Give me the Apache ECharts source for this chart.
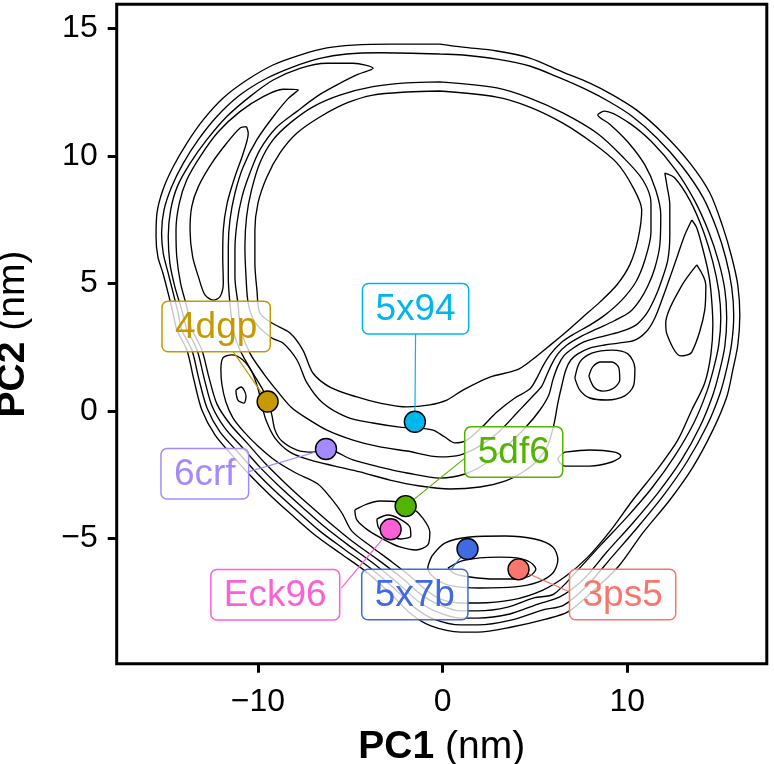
<!DOCTYPE html>
<html><head><meta charset="utf-8">
<script src="https://cdn.jsdelivr.net/npm/echarts@6/dist/echarts.min.js"></script>
<style>html,body{margin:0;padding:0;background:#fff}#c{width:774px;height:764px}</style>
</head><body><div id="c"></div>
<script>
// ---- point data ----
const names = ['4dgp','5x94','6crf','5df6','Eck96','5x7b','3ps5'];
const pc1 = [-9.47,-1.50,-6.31,-2.00,-2.81,1.35,4.11];
const pc2 = [0.37,-0.42,-1.49,-3.73,-4.64,-5.41,-6.21];
const colors = ['#C49A00','#00B6EB','#A58AFF','#53B400','#FB61D7','#4169E1','#F8766D'];
const xTicks = [-10,0,10];
const yTicks = [-5,0,5,10,15];

// ---- contour lines (PC1, PC2) ----
const cO1 = [[-0.15,14.39],[1.10,14.27],[2.94,14.12],[4.72,13.84],[6.51,13.29],[7.97,12.86],[9.22,12.39],[10.51,11.80],[11.92,10.90],[13.38,9.73],[14.47,8.55],[15.17,7.22],[15.65,6.04],[15.98,4.94],[16.09,3.76],[15.98,2.59],[15.71,1.61],[15.38,0.55],[14.63,-0.75],[13.55,-2.20],[12.30,-3.49],[10.84,-4.78],[9.54,-6.08],[8.08,-7.10],[6.78,-7.88],[5.59,-8.16],[3.75,-8.47],[1.91,-8.67],[0.99,-8.67],[-0.63,-8.43],[-1.77,-7.92],[-2.85,-7.14],[-4.20,-6.27],[-5.56,-5.57],[-6.91,-4.86],[-8.15,-4.08],[-9.35,-3.29],[-10.43,-2.51],[-11.40,-1.73],[-12.32,-0.94],[-13.03,0.04],[-13.46,1.22],[-13.84,2.39],[-14.38,3.18],[-14.59,3.84],[-14.86,4.63],[-15.14,5.41],[-15.41,6.04],[-15.51,6.82],[-15.46,7.76],[-15.14,8.67],[-14.59,9.57],[-13.84,10.51],[-12.97,11.41],[-11.89,12.27],[-10.59,12.98],[-9.18,13.57],[-7.72,13.96],[-6.26,14.24],[-4.85,14.35],[-2.85,14.39],[-0.15,14.39]];
const cO2 = [[-0.15,14.00],[-3.39,14.05],[-5.19,14.00],[-6.64,13.83],[-8.08,13.50],[-9.52,13.05],[-10.97,12.39],[-12.23,11.54],[-13.23,10.63],[-14.04,9.71],[-14.66,8.80],[-15.08,7.88],[-15.21,6.97],[-15.12,6.18],[-14.85,5.40],[-14.58,4.62],[-14.31,3.83],[-14.12,3.18],[-13.57,2.39],[-13.19,1.25],[-12.75,0.12],[-12.05,-0.82],[-11.13,-1.57],[-10.16,-2.35],[-9.07,-3.14],[-7.88,-3.92],[-6.64,-4.71],[-5.34,-5.41],[-3.99,-6.12],[-2.64,-6.94],[-1.55,-7.69],[-0.47,-8.16],[0.99,-8.39],[1.91,-8.39],[3.70,-8.20],[5.43,-7.80],[6.56,-7.61],[7.86,-6.82],[9.16,-5.73],[10.57,-4.55],[11.98,-3.29],[13.22,-2.00],[14.30,-0.59],[15.01,0.67],[15.39,1.69],[15.65,2.67],[15.76,3.76],[15.65,4.86],[15.33,6.00],[14.84,7.14],[14.09,8.39],[12.95,9.61],[11.60,10.71],[10.24,11.57],[9.05,12.12],[7.81,12.59],[6.35,13.06],[4.72,13.53],[2.94,13.80],[1.10,13.96],[-0.15,14.00]];
const cI1 = [[-0.15,12.55],[2.94,12.31],[4.72,11.92],[6.51,11.29],[8.13,10.51],[9.43,9.73],[10.30,8.78],[10.78,7.88],[10.57,6.71],[10.13,5.73],[9.43,4.94],[8.51,4.27],[7.54,3.65],[6.62,3.06],[5.70,2.51],[4.83,2.00],[4.02,1.61],[2.56,1.33],[1.10,0.82],[0.23,0.43],[-0.69,0.24],[-1.93,0.16],[-3.39,0.31],[-4.64,0.55],[-6.10,0.94],[-7.02,1.49],[-7.56,2.39],[-8.26,3.06],[-9.24,3.45],[-9.89,3.84],[-10.05,4.75],[-10.16,5.80],[-10.16,7.10],[-9.99,8.16],[-9.51,9.18],[-8.80,10.12],[-7.88,10.90],[-6.64,11.53],[-5.18,12.08],[-3.77,12.39],[-1.93,12.51],[-0.15,12.55]];
const cI2 = [[-0.15,12.91],[-1.95,12.87],[-3.77,12.72],[-5.56,12.39],[-7.02,11.93],[-8.26,11.29],[-9.18,10.63],[-9.89,9.73],[-10.34,8.67],[-10.61,7.62],[-10.70,6.44],[-10.64,5.27],[-10.52,4.22],[-10.16,3.49],[-9.24,2.86],[-8.64,2.67],[-7.88,2.00],[-7.34,1.10],[-6.48,0.31],[-5.18,-0.24],[-3.77,-0.47],[-2.31,-0.63],[-1.39,-0.67],[-0.52,-0.75],[0.12,-1.02],[0.67,-1.25],[1.31,-1.14],[2.13,-0.63],[2.94,-0.04],[3.91,0.51],[4.72,0.86],[5.10,1.29],[5.43,1.76],[5.81,2.20],[6.40,2.67],[7.11,3.02],[7.97,3.37],[8.78,3.76],[9.70,4.35],[10.46,5.06],[10.95,5.92],[11.28,7.02],[11.28,8.16],[10.84,9.06],[9.76,9.96],[8.35,10.90],[6.51,11.69],[4.72,12.27],[2.94,12.67],[-0.15,12.91]];
const cO3 = [[-13.85,3.18],[-14.12,3.96],[-14.49,4.87],[-14.76,5.79],[-14.85,6.84],[-14.72,7.88],[-14.36,8.80],[-13.67,9.71],[-12.77,10.63],[-11.69,11.54],[-10.43,12.33],[-9.17,12.98],[-7.72,13.44],[-6.28,13.64],[-4.84,13.64],[-3.76,13.44],[-4.65,13.18],[-5.74,12.78],[-6.82,12.33],[-7.90,11.74],[-9.02,11.10],[-9.89,10.24],[-10.43,9.33],[-10.86,8.39],[-11.13,7.37],[-11.24,6.31],[-11.24,5.25],[-11.08,4.24],[-10.91,3.18],
  [-10.43,2.27],[-9.67,1.45],[-8.91,0.75],[-8.21,0.16],[-7.45,-0.24],[-6.26,-0.75],[-4.85,-1.14],[-3.39,-1.41],[-1.93,-1.57],[-0.15,-1.80],[0.94,-1.73],[2.02,-1.37],[3.10,-0.78],[4.07,-0.04],[4.89,0.59],[5.37,0.98],[5.64,1.41],[5.91,1.84],[6.24,2.24],[6.73,2.59],[7.43,2.90],[8.35,3.22],[9.27,3.53],[10.13,3.88],[10.68,4.35],[11.11,4.90],[11.49,5.61],[11.76,6.51],[11.81,7.69],[11.54,8.67],[10.95,9.65],[10.03,10.55],[9.05,11.25],[8.40,11.61],
  [8.78,11.76],[10.03,11.33],[11.33,10.55],[12.62,9.45],[13.65,8.24],[14.41,7.02],[14.95,5.84],[15.28,4.75],[15.38,3.65],[15.28,2.55],[15.01,1.61],[14.63,0.63],[13.92,-0.63],[12.90,-1.96],[11.65,-3.22],[10.30,-4.39],[8.89,-5.53],[7.59,-6.63],[6.35,-7.29],[5.16,-7.57],[3.64,-7.96],[1.91,-8.12],[0.99,-8.12],[-0.31,-7.88],[-1.34,-7.45],[-2.42,-6.75],[-3.77,-5.96],[-5.12,-5.25],[-6.37,-4.55],[-7.61,-3.76],[-8.80,-2.98],[-9.89,-2.20],[-10.86,-1.41],[-11.78,-0.67],[-12.48,0.20],[-12.91,1.29],[-13.29,2.39],[-13.85,3.18]];
const cO4 = [[-13.58,3.18],[-13.85,4.09],[-14.18,5.01],[-14.39,6.05],[-14.43,7.10],[-14.25,8.15],[-13.85,9.06],[-13.13,9.97],[-12.14,10.95],[-10.97,11.74],[-9.71,12.33],[-8.63,12.62],[-7.81,12.59],[-8.35,12.26],[-9.17,11.54],[-10.06,10.63],[-10.79,9.58],[-11.24,8.54],[-11.51,7.49],[-11.60,6.44],[-11.60,5.27],[-11.51,4.22],[-11.33,3.18],
  [-10.97,2.39],[-10.27,1.49],[-9.72,0.82],[-9.45,0.39],[-9.24,-0.16],[-9.07,-0.75],[-8.70,-1.18],[-7.88,-1.53],[-7.02,-1.61],[-6.31,-1.49],[-4.85,-1.92],[-3.39,-2.20],[-1.93,-2.43],[-0.15,-2.63],[1.21,-2.47],[2.45,-2.00],[3.53,-1.33],[4.51,-0.63],[5.27,0.04],[5.75,0.63],[5.97,1.22],[6.24,1.76],[6.56,2.16],[7.00,2.43],[7.65,2.71],[8.51,2.90],[9.59,3.10],[10.46,3.37],[11.06,3.84],[11.49,4.43],[11.81,5.02],[12.19,5.92],[12.30,6.90],[12.30,8.08],[12.14,8.86],[12.03,9.33],
  [12.57,9.14],[13.38,8.27],[14.09,7.10],[14.63,5.84],[14.95,4.71],[15.06,3.65],[14.95,2.59],[14.68,1.69],[14.30,0.75],[13.60,-0.47],[12.57,-1.76],[11.33,-3.02],[9.98,-4.16],[8.57,-5.25],[7.32,-6.24],[6.02,-7.18],[4.94,-7.33],[3.53,-7.69],[1.91,-7.84],[0.99,-7.84],[-0.15,-7.61],[-1.12,-7.22],[-2.20,-6.55],[-3.56,-5.80],[-4.91,-5.10],[-6.10,-4.39],[-7.34,-3.61],[-8.53,-2.82],[-9.62,-2.04],[-10.59,-1.25],[-11.51,-0.51],[-12.21,0.27],[-12.65,1.33],[-13.03,2.39],[-13.58,3.18]];
const cL5a = [[-10.61,11.15],[-10.52,10.89],[-10.79,10.11],[-11.24,9.19],[-11.66,8.15],[-11.87,7.10],[-11.90,6.05],[-11.87,5.01],[-12.05,4.48],[-12.41,4.35],[-12.86,4.55],[-13.22,5.27],[-13.53,6.05],[-13.67,7.10],[-13.58,8.01],[-13.22,8.80],[-12.50,9.71],[-11.69,10.50],[-10.97,11.09],[-10.61,11.15]];
const cL5b = [[13.49,7.49],[13.76,7.18],[14.03,6.51],[14.36,5.53],[14.52,4.75],[14.63,3.37],[14.52,2.20],[14.19,1.10],[13.49,0.04],[12.73,-1.14],[11.60,-2.31],[10.30,-3.49],[9.11,-4.67],[7.86,-5.73],[6.68,-6.47],[5.43,-7.02],[3.75,-7.41],[1.91,-7.53],[0.99,-7.53],[-0.15,-7.37],[-0.96,-6.98],[-1.77,-6.47],[-2.74,-5.92],[-3.83,-5.33],[-4.91,-4.71],[-5.45,-4.00],[-6.10,-3.37],[-6.75,-2.86],[-7.94,-2.43],[-9.02,-1.96],[-10.00,-1.37],[-10.75,-0.82],[-11.35,-0.27],[-11.73,0.35],[-11.94,1.02],[-12.00,1.61],[-11.89,2.08],[-11.40,2.20],[-10.81,2.00],[-10.32,1.53],[-10.00,0.90],[-9.78,0.24],[-9.56,-0.35],[-9.07,-1.06],[-8.26,-1.61],[-7.18,-1.92],[-5.83,-2.16],[-4.47,-2.39],[-2.85,-2.71],[-1.23,-2.94],[0.40,-3.06],[2.02,-2.98],[3.37,-2.75],[4.35,-2.39],[5.16,-1.92],[5.70,-1.33],[6.02,-0.55],[6.24,0.31],[6.46,1.02],[6.67,1.61],[6.94,2.00],[7.32,2.24],[7.97,2.47],[8.78,2.59],[9.59,2.67],[10.41,2.78],[11.06,3.14],[11.49,3.65],[11.87,4.35],[12.30,5.22],[12.73,6.12],[13.11,6.90],[13.49,7.49]];
const cPeakA = [[7.92,1.37],[8.13,1.73],[8.57,1.92],[9.16,1.92],[9.54,1.69],[9.59,1.22],[9.27,0.90],[8.67,0.78],[8.19,0.94],[7.92,1.37]];
const cPeakB = [[7.16,1.29],[7.43,1.92],[8.08,2.27],[9.16,2.39],[10.03,2.24],[10.41,1.69],[10.35,1.02],[9.86,0.59],[8.89,0.43],[7.97,0.51],[7.43,0.82],[7.16,1.29]];
const cLensR = [[13.76,5.73],[14.25,4.94],[14.19,3.96],[13.49,2.31],[12.90,2.16],[12.14,3.02],[12.08,3.45],[12.90,4.86],[13.76,5.73]];
const cTongue = [[6.62,-1.61],[7.97,-1.53],[9.32,-1.61],[9.65,-1.76],[9.16,-2.00],[7.97,-2.16],[6.62,-2.16],[6.24,-1.88],[6.62,-1.61]];
const cEckA = [[-4.75,-3.88],[-4.10,-3.65],[-3.39,-3.53],[-2.47,-3.57],[-1.66,-3.80],[-1.07,-4.20],[-0.69,-4.75],[-0.80,-5.25],[-1.44,-5.45],[-2.31,-5.33],[-3.12,-5.06],[-4.04,-4.67],[-4.64,-4.27],[-4.75,-3.88]];
const cEckB = [[-3.56,-4.24],[-2.96,-4.08],[-2.31,-4.24],[-1.77,-4.55],[-1.72,-4.90],[-2.26,-5.02],[-2.96,-4.86],[-3.45,-4.59],[-3.56,-4.24]];
const cPsA = [[-0.58,-5.69],[0.12,-5.18],[1.48,-4.94],[3.37,-4.90],[4.99,-5.02],[5.97,-5.33],[6.24,-5.84],[5.97,-6.35],[5.16,-6.71],[3.91,-6.90],[2.02,-6.94],[0.50,-6.86],[-0.36,-6.59],[-0.80,-6.16],[-0.58,-5.69]];
const cPsB = [[0.29,-6.16],[1.04,-5.88],[2.02,-5.76],[3.10,-5.73],[4.02,-5.76],[4.72,-5.92],[5.05,-6.20],[4.72,-6.47],[4.02,-6.59],[2.83,-6.59],[1.48,-6.51],[0.67,-6.39],[0.29,-6.16]];
const cDot = [[-11.19,0.82],[-10.91,0.94],[-10.64,0.59],[-10.75,0.31],[-11.08,0.43],[-11.19,0.82]];
const contours = [cO1,cO2,cI1,cI2,cO3,cO4,cL5a,cL5b,cPeakA,cPeakB,cLensR,cTongue,cEckA,cEckB,cPsA,cPsB,cDot];

// ---- layout (pixels) ----
const labelOffsets = [[-51.5,-75],[0.7,-113],[-121.2,24.7],[108.1,-54],[-115.4,65.4],[-52.7,45.5],[104.1,25.2]];
const segEnds = [[17,25],[0,25],[44,-2],[-49.5,6.5],[66,-6.5],[36.5,-25.3],[-53.8,-3]];
const FONT = '"Liberation Sans", Arial, Helvetica, sans-serif';
const LFS = 37, PADX = 13, BOXH = 50.5;

const cv = document.createElement('canvas').getContext('2d');
cv.font = LFS + 'px ' + FONT;
function boxW(t){ return cv.measureText(t).width + 2*PADX; }
function minusFmt(v){ return (v<0?'\u2212':'') + Math.abs(v); }

const chart = echarts.init(document.getElementById('c'), null, {renderer:'canvas'});
const ptData = names.map((n,i)=>[pc1[i],pc2[i]]);

const series = contours.map(c => ({
  type:'line', data:c, showSymbol:false, symbol:'none', smooth:0.3, silent:true, z:1,
  lineStyle:{color:'#000', width:1.35}, animation:false
}));
series.push({
  type:'custom', z:2, silent:true, animation:false, data:ptData,
  renderItem:(params, api)=>{
    const i = params.dataIndex;
    const p = api.coord([api.value(0), api.value(1)]);
    const cx = p[0]+labelOffsets[i][0], cy = p[1]+labelOffsets[i][1];
    return {type:'line', shape:{x1:p[0],y1:p[1],x2:cx+segEnds[i][0],y2:cy+segEnds[i][1]},
      style:{stroke:colors[i], lineWidth:1.2}};
  }
});
series.push({
  type:'scatter', z:3, silent:true, animation:false, symbolSize:21,
  data: ptData.map((d,i)=>({value:d, itemStyle:{color:colors[i], borderColor:'#000', borderWidth:1.4, opacity:1}}))
});
series.push({
  type:'custom', z:4, silent:true, animation:false, data:ptData,
  renderItem:(params, api)=>{
    const i = params.dataIndex;
    const p = api.coord([api.value(0), api.value(1)]);
    const cx = p[0]+labelOffsets[i][0], cy = p[1]+labelOffsets[i][1];
    const w = boxW(names[i]);
    return {type:'group', children:[
      {type:'rect', shape:{x:cx-w/2, y:cy-BOXH/2, width:w, height:BOXH, r:6},
        style:{fill:'rgba(255,255,255,0.78)', stroke:colors[i], lineWidth:1.5}},
      {type:'text', x:cx, y:cy+1, style:{text:names[i], fill:colors[i], font:LFS+'px '+FONT, align:'center', verticalAlign:'middle'}}
    ]};
  }
});

const nameRich = {b:{fontWeight:'bold', fontSize:39, fontFamily:FONT, color:'#000'}, r:{fontSize:39, fontFamily:FONT, color:'#000'}};
chart.setOption({
  animation:false,
  backgroundColor:'#fff',
  grid:{left:116.7, right:7.2, top:4.3, bottom:100.3, containLabel:false, outerBoundsMode:'none',
    show:true, borderColor:'#000', borderWidth:3, backgroundColor:'transparent'},
  xAxis:{type:'value', min:-17.64, max:17.55, splitLine:{show:false}, axisLine:{show:false, onZero:false},
    axisTick:{show:true, customValues:xTicks, length:9, lineStyle:{color:'#000', width:3}},
    axisLabel:{customValues:xTicks, formatter:minusFmt, fontSize:32, color:'#000', fontFamily:FONT, margin:22},
    name:'{b|PC1}{r| (nm)}', nameLocation:'middle', nameGap:64, nameTextStyle:{rich:nameRich}},
  yAxis:{type:'value', min:-9.91, max:15.95, splitLine:{show:false}, axisLine:{show:false, onZero:false},
    axisTick:{show:true, customValues:yTicks, length:9, lineStyle:{color:'#000', width:3}},
    axisLabel:{customValues:yTicks, formatter:minusFmt, fontSize:32, color:'#000', fontFamily:FONT, margin:19},
    name:'{b|PC2}{r| (nm)}', nameLocation:'middle', nameGap:84, nameTextStyle:{rich:nameRich}},
  series: series
});
</script></body></html>
